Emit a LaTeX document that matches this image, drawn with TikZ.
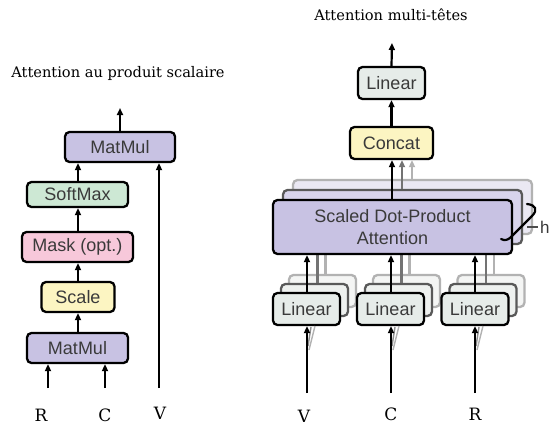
\documentclass[tikz,border=0pt]{standalone}
\usepackage{fontspec}
\setmainfont{DejaVu Serif}
\setsansfont{Liberation Sans}
\usetikzlibrary{arrows.meta}
\definecolor{cpurple}{HTML}{C8C2E3}
\definecolor{cpurpleB}{HTML}{D8D4EC}
\definecolor{cpurpleC}{HTML}{EAE8F3}
\definecolor{cgreen}{HTML}{CDE8D4}
\definecolor{cpink}{HTML}{F7C8DA}
\definecolor{cyellow}{HTML}{FCF5C2}
\definecolor{cgrey}{HTML}{E6ECE9}
\definecolor{cgreyB}{HTML}{EEF1EF}
\definecolor{cgreyC}{HTML}{F4F5F4}
\definecolor{ctext}{HTML}{3A3A3A}
\tikzset{
  blk/.style={draw=black, line width=2.3pt, rounded corners=4.5pt, inner sep=0pt,
    align=center, text=ctext, font=\sffamily\fontsize{18}{22}\selectfont},
  ghostB/.style={blk, draw=black!65, text opacity=0},
  ghostC/.style={blk, draw=black!30, text opacity=0},
  flow/.style={line width=2.2pt, -{Triangle[length=7pt,width=6pt]}},
  flowB/.style={flow, draw=black!55, fill=black!55},
  flowC/.style={flow, draw=black!30, fill=black!30},
  lbl/.style={font=\rmfamily\fontsize{17}{17}\selectfont, text=black},
  ttl/.style={font=\rmfamily\fontsize{14.6}{15}\selectfont, text=black}
}
\begin{document}
\begin{tikzpicture}[x=1pt,y=-1pt]
\useasboundingbox[fill=white] (0,0) rectangle (550,426);

% ---------- Scaled dot-product attention ----------
\node[ttl] (t1) at (118,73) {Attention au produit scalaire};

\node[blk, fill=cpurple, minimum width=110pt, minimum height=30pt] (mm2) at (120,147) {MatMul};
\node[blk, fill=cgreen,  minimum width=101pt, minimum height=25pt] (sm)  at (77.5,194.5) {SoftMax};
\node[blk, fill=cpink,   minimum width=111pt, minimum height=30pt] (msk) at (77.5,247) {Mask (opt.)};
\node[blk, fill=cyellow, minimum width=73pt,  minimum height=30pt] (scl) at (78,297) {Scale};
\node[blk, fill=cpurple, minimum width=101pt, minimum height=30pt] (mm1) at (77.5,348) {MatMul};

\coordinate (o1) at (120,108);
\coordinate (inR) at (48,388);
\coordinate (inC) at (105,388);
\coordinate (inV) at (159,388);

\draw[flow] (mm1.north -| scl) -- (scl.south);
\draw[flow] (scl.north) -- (msk.south -| scl);
\draw[flow] (msk.north -| scl) -- (sm.south -| scl);
\draw[flow] (sm.north -| scl) -- (mm2.south -| scl);
\draw[flow] (mm2.north) -- (o1);
\draw[flow] (inR) -- (inR |- mm1.south);
\draw[flow] (inC) -- (inC |- mm1.south);
\draw[flow] (inV) -- (inV |- mm2.south);

\node[lbl] (lR) at (41,415) {R};
\node[lbl] (lC) at (105,415) {C};
\node[lbl] (lV) at (160,413) {V};

% ---------- Multi-head attention ----------
\node[ttl] (t2) at (391,15) {Attention multi-têtes};

% stacked heads, back to front
\node[ghostC, fill=cpurpleC, minimum width=239pt, minimum height=54pt] (att3) at (412.5,207) {};
\node[ghostB, fill=cpurpleB, minimum width=239pt, minimum height=54pt] (att2) at (402.5,217) {};

\foreach \x/\n in {306.5/a,390.5/b,475/c}{
  \node[ghostC, fill=cgreyC, minimum width=67pt, minimum height=32pt] (l\n3) at (\x+16,291) {};
  \node[ghostB, fill=cgreyB, minimum width=67pt, minimum height=32pt] (l\n2) at (\x+8,300) {};
}
\foreach \n in {a,b,c}{
  \draw[line width=2.2pt, black!30] (l\n3.north) ++(3,0) -- ++(0,-21);
  \draw[line width=2.2pt, black!55] (l\n2.north) ++(3,0) -- ++(0,-30);
}

\node[blk, fill=cpurple, minimum width=239pt, minimum height=54pt] (att) at (392.5,227) {Scaled Dot-Product\\Attention};

\node[blk, fill=cgrey, minimum width=67pt, minimum height=32pt] (la) at (306.5,309) {Linear};
\node[blk, fill=cgrey, minimum width=67pt, minimum height=32pt] (lb) at (390.5,309) {Linear};
\node[blk, fill=cgrey, minimum width=67pt, minimum height=32pt] (lc) at (475,309) {Linear};

\node[blk, fill=cyellow, minimum width=83pt, minimum height=32pt] (cat) at (391.5,143) {Concat};
\node[blk, fill=cgrey,   minimum width=67pt, minimum height=32pt] (lin) at (391.5,83) {Linear};

\coordinate (o2) at (392,43);

\draw[flowC] (att3.north -| 412,0) -- (cat.south -| 412,0);
\draw[flowB] (att2.north -| 402,0) -- (cat.south -| 402,0);
\draw[flow] (att.north -| 392,0) -- (cat.south -| 392,0);
\draw[flow] (cat.north) -- (lin.south);
\draw[flow] (lin.north) -- (o2);

\foreach \n/\x in {a/307,b/391,c/475}{
  \draw[flow] (l\n.north -| \x,0) -- (att.south -| \x,0);
  \draw[line width=1.4pt, black!30] (\x+2,350) -- (\x+8,326);
  \draw[line width=1.4pt, black!45] (\x+1,346) -- (\x+4,327);
  \draw[flow] (\x,393) -- (l\n.south -| \x,0);
}

\node[lbl] (lV2) at (304,416) {V};
\node[lbl] (lC2) at (391,414) {C};
\node[lbl] (lR2) at (475,414) {R};

% brace marking the h parallel heads
\draw[line width=2.2pt, line cap=round] (527,204) .. controls (536,205) and (538,210) .. (532,216)
  -- (511,237) .. controls (508,240) and (505,241) .. (501,239);
\coordinate (hb) at (527,227);
\draw[line width=1.2pt, black!70] (hb) -- ++(11,0) coordinate (he);
\node[anchor=west, inner sep=0pt, font=\sffamily\fontsize{17}{17}\selectfont, text=ctext] (h) at ([xshift=2pt]he) {h};
\end{tikzpicture}
\end{document}
